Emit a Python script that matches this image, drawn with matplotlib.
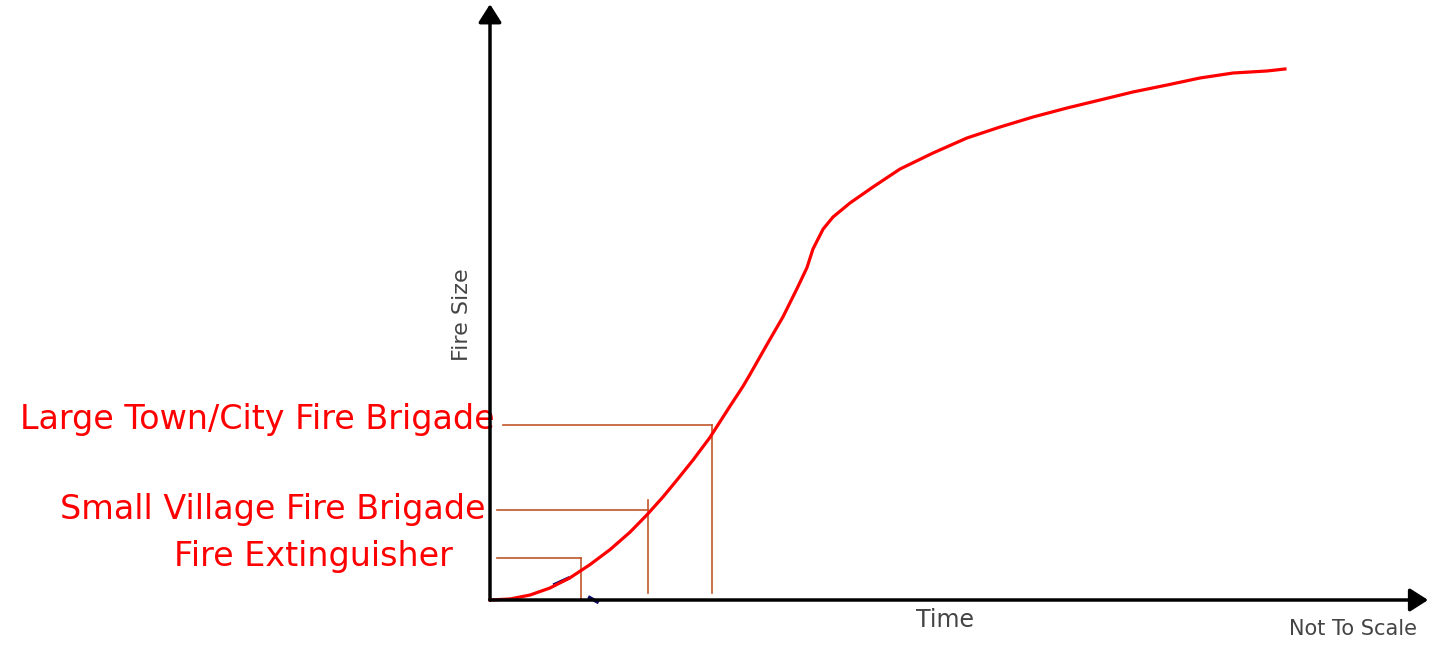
import numpy as np
import matplotlib
matplotlib.use('Agg')
import matplotlib.pyplot as plt

# fire growth curve (time, fire size), arbitrary units
time = [0.0, 2.13, 4.26, 6.38, 8.51, 10.64, 12.77, 14.89, 16.70, 18.40,
        19.89, 21.60, 23.40, 24.26, 25.53, 26.91, 27.66, 29.47, 31.17, 32.66,
        33.72, 34.36, 35.43, 36.49, 38.30, 40.74, 43.62, 47.13, 50.74, 54.26,
        57.77, 61.38, 64.89, 68.40, 72.02, 75.53, 79.04, 82.66, 84.57]
size = [0.0, 0.17, 0.83, 2.0, 3.7, 5.9, 8.4, 11.3, 14.2, 17.17,
        20.0, 23.33, 27.1, 29.2, 32.3, 35.6, 37.6, 42.6, 47.2, 51.9,
        55.4, 58.5, 61.8, 63.83, 66.17, 68.83, 71.83, 74.5, 77.0, 78.83,
        80.5, 82.0, 83.33, 84.67, 85.83, 87.0, 87.83, 88.17, 88.5]

# response levels: label, fire size, time reached
labels = ['Fire Extinguisher', 'Small Village Fire Brigade',
          'Large Town/City Fire Brigade']
level_size = [7.0, 15.0, 29.17]
level_time = [9.68, 16.81, 23.62]
level_start = [0.74, 0.74, 1.38]
level_bottom = [0.0, 1.17, 1.17]
level_top = [7.0, 16.67, 29.17]
label_x = [-3.94, -0.53, 0.53]
label_y = [7.2, 15.0, 30.0]

# leftover dark blue strokes near the origin
blue_a_x = [6.9, 8.3]
blue_a_y = [2.6, 3.6]
blue_b_x = [10.6, 11.4]
blue_b_y = [0.4, -0.3]

fig = plt.figure(figsize=(14.3, 6.49), dpi=100)
ax = fig.add_axes([0, 0, 1, 1])
ax.set_xlim(-490/9.4, 100)
ax.set_ylim(-49/6.0, 100)
ax.axis('off')

brown = '#c0562a'
for i in range(len(labels)):
  ax.plot([level_start[i], level_time[i]], [level_size[i], level_size[i]],
          color=brown, lw=1.2)
  ax.plot([level_time[i], level_time[i]], [level_bottom[i], level_top[i]],
          color=brown, lw=1.2)
  ax.text(label_x[i], label_y[i], labels[i], color='red', fontsize=24,
          ha='right', va='center')

ax.plot(blue_a_x, blue_a_y, color='#0a0a6e', lw=2.5, zorder=3)
ax.plot(blue_b_x, blue_b_y, color='#0a0a6e', lw=2.5, zorder=3)
ax.plot(time, size, color='red', lw=2.3, zorder=4, solid_joinstyle='round')

# axes with arrow heads
arrow = dict(arrowstyle='-|>,head_length=0.55,head_width=0.35', color='black',
             lw=2.5, mutation_scale=20, shrinkA=0, shrinkB=0)
ax.annotate('', xy=(0, 99.3), xytext=(0, 0), arrowprops=arrow, zorder=5)
ax.annotate('', xy=(99.8, 0), xytext=(0, 0), arrowprops=arrow, zorder=5)

ax.text(-3.0, 47.5, 'Fire Size', rotation=90, color='#444444', fontsize=16,
        ha='center', va='center')
ax.text(48.4, -3.4, 'Time', color='#444444', fontsize=17,
        ha='center', va='center')
ax.text(91.8, -4.8, 'Not To Scale', color='#444444', fontsize=15,
        ha='center', va='center')

fig.savefig('out.png', dpi=100)
